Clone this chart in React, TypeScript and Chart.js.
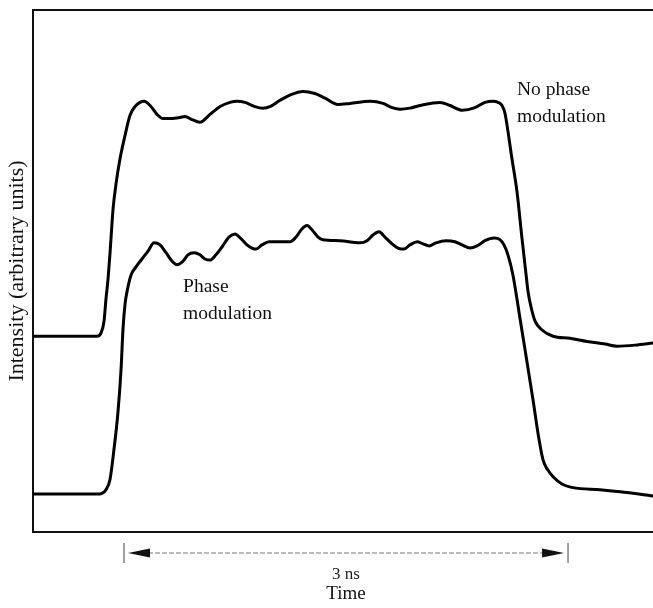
import React, { useEffect, useRef } from "react";
import { Chart, registerables } from "chart.js";

Chart.register(...registerables);

const WIDTH = 653;
const HEIGHT = 608;
const FONT = "'Liberation Serif', 'Times New Roman', serif";

// Time in ns, intensity in arbitrary units
const timeMin = 0;
const timeMax = 4.189;
const intensityMin = 0;
const intensityMax = 10;

// Pulse without phase modulation (upper trace)
const noPhaseTime = [
  0, 0.182, 0.385, 0.432, 0.459, 0.48, 0.493, 0.507, 0.52, 0.541,
  0.561, 0.588, 0.622, 0.655, 0.689, 0.723, 0.75, 0.791, 0.838, 0.878,
  0.939, 0.993, 1.027, 1.074, 1.128, 1.196, 1.264, 1.331, 1.378, 1.432,
  1.5, 1.554, 1.601, 1.669, 1.736, 1.824, 1.905, 1.973, 2.061, 2.142,
  2.277, 2.365, 2.426, 2.48, 2.547, 2.615, 2.75, 2.818, 2.899, 2.986,
  3.054, 3.108, 3.142, 3.169, 3.189, 3.203, 3.236, 3.27, 3.304, 3.331,
  3.345, 3.365, 3.392, 3.439, 3.514, 3.628, 3.743, 3.865, 3.946, 4.068,
  4.189,
];
const noPhaseIntensity = [
  3.75, 3.75, 3.75, 3.75, 3.81, 4.04, 4.46, 4.85, 5.33, 6.19,
  6.67, 7.15, 7.6, 7.98, 8.15, 8.23, 8.25, 8.17, 8.0, 7.92,
  7.92, 7.94, 7.96, 7.9, 7.85, 8.0, 8.15, 8.23, 8.25, 8.23,
  8.15, 8.12, 8.15, 8.27, 8.37, 8.44, 8.4, 8.31, 8.19, 8.21,
  8.25, 8.21, 8.13, 8.1, 8.12, 8.17, 8.23, 8.17, 8.08, 8.13,
  8.23, 8.25, 8.23, 8.17, 8.02, 7.79, 7.15, 6.52, 5.62, 4.94,
  4.6, 4.31, 4.04, 3.87, 3.75, 3.71, 3.65, 3.6, 3.56, 3.58,
  3.62,
];

// Pulse with phase modulation (lower trace)
const phaseTime = [
  0, 0.182, 0.385, 0.453, 0.473, 0.493, 0.52, 0.547, 0.574, 0.595,
  0.608, 0.622, 0.635, 0.662, 0.696, 0.736, 0.777, 0.818, 0.858, 0.899,
  0.939, 0.973, 1.014, 1.047, 1.088, 1.128, 1.162, 1.196, 1.236, 1.277,
  1.324, 1.365, 1.405, 1.446, 1.48, 1.507, 1.547, 1.595, 1.669, 1.736,
  1.777, 1.818, 1.851, 1.885, 1.926, 1.959, 2.074, 2.209, 2.257, 2.297,
  2.338, 2.378, 2.426, 2.466, 2.507, 2.547, 2.595, 2.635, 2.676, 2.723,
  2.791, 2.851, 2.899, 2.953, 3.0, 3.054, 3.115, 3.155, 3.182, 3.209,
  3.243, 3.291, 3.338, 3.378, 3.419, 3.446, 3.473, 3.514, 3.574, 3.649,
  3.831, 3.966, 4.189,
];
const phaseIntensity = [
  0.73, 0.73, 0.73, 0.73, 0.75, 0.81, 1.0, 1.58, 2.29, 3.12,
  3.88, 4.37, 4.6, 4.92, 5.08, 5.23, 5.38, 5.54, 5.5, 5.35,
  5.19, 5.12, 5.19, 5.31, 5.35, 5.31, 5.23, 5.21, 5.31, 5.46,
  5.65, 5.71, 5.62, 5.5, 5.44, 5.42, 5.5, 5.56, 5.56, 5.56,
  5.65, 5.81, 5.87, 5.79, 5.65, 5.6, 5.58, 5.54, 5.58, 5.69,
  5.75, 5.65, 5.52, 5.44, 5.42, 5.5, 5.56, 5.52, 5.48, 5.54,
  5.58, 5.56, 5.5, 5.44, 5.48, 5.58, 5.63, 5.6, 5.5, 5.31,
  4.92, 4.08, 3.25, 2.54, 1.77, 1.38, 1.21, 1.06, 0.92, 0.85,
  0.81, 0.77, 0.69,
];

// Trace labels: lines of text and the (time, intensity) of the first baseline
const noPhaseLabel = ["No phase", "modulation"];
const noPhaseLabelAt = [3.27, 8.37];
const phaseLabel = ["Phase", "modulation"];
const phaseLabelAt = [1.014, 4.6];

// 3 ns scale bar under the time axis
const scaleBarNs = [0.615, 3.615];
const scaleBarText = "3 ns";
const xTitle = "Time";
const yTitle = "Intensity (arbitrary units)";

const toPoints = (xs: number[], ys: number[]) => xs.map((x, i) => ({ x, y: ys[i] }));

const framePlugin = {
  id: "frame",
  beforeDatasetsDraw(chart: any) {
    const { ctx, chartArea: a } = chart;
    ctx.save();
    ctx.strokeStyle = "#111";
    ctx.lineWidth = 2;
    ctx.lineCap = "square";
    ctx.beginPath();
    ctx.moveTo(WIDTH, a.top);
    ctx.lineTo(a.left, a.top);
    ctx.lineTo(a.left, a.bottom);
    ctx.lineTo(WIDTH, a.bottom);
    ctx.stroke();
    ctx.restore();
  },
  afterDraw(chart: any) {
    const { ctx, chartArea: a } = chart;
    const x = chart.scales.x;
    const y = chart.scales.y;
    ctx.save();
    ctx.fillStyle = "#111";

    // trace labels
    ctx.font = `19.5px ${FONT}`;
    ctx.textAlign = "left";
    ctx.textBaseline = "alphabetic";
    const drawLabel = (lines: string[], at: number[]) => {
      const px = x.getPixelForValue(at[0]);
      const py = y.getPixelForValue(at[1]);
      lines.forEach((t, i) => ctx.fillText(t, px, py + i * 27));
    };
    drawLabel(noPhaseLabel, noPhaseLabelAt);
    drawLabel(phaseLabel, phaseLabelAt);

    // y-axis title
    ctx.save();
    ctx.translate(17, (a.top + a.bottom) / 2);
    ctx.rotate(-Math.PI / 2);
    ctx.textAlign = "center";
    ctx.textBaseline = "middle";
    ctx.font = `22px ${FONT}`;
    ctx.fillText(yTitle, 0, 0);
    ctx.restore();

    // scale bar with arrows
    const x0 = x.getPixelForValue(scaleBarNs[0]);
    const x1 = x.getPixelForValue(scaleBarNs[1]);
    const by = a.bottom + 21;
    ctx.strokeStyle = "#444";
    ctx.lineWidth = 1;
    ctx.beginPath();
    ctx.moveTo(x0, by - 10);
    ctx.lineTo(x0, by + 10);
    ctx.moveTo(x1, by - 10);
    ctx.lineTo(x1, by + 10);
    ctx.stroke();

    ctx.strokeStyle = "#777";
    ctx.setLineDash([5, 2]);
    ctx.beginPath();
    ctx.moveTo(x0 + 24, by);
    ctx.lineTo(x1 - 24, by);
    ctx.stroke();
    ctx.setLineDash([]);

    ctx.fillStyle = "#111";
    ctx.beginPath();
    ctx.moveTo(x0 + 4, by);
    ctx.lineTo(x0 + 26, by - 4.5);
    ctx.lineTo(x0 + 26, by + 4.5);
    ctx.closePath();
    ctx.fill();
    ctx.beginPath();
    ctx.moveTo(x1 - 4, by);
    ctx.lineTo(x1 - 26, by - 4.5);
    ctx.lineTo(x1 - 26, by + 4.5);
    ctx.closePath();
    ctx.fill();

    const mid = (x0 + x1) / 2;
    ctx.textAlign = "center";
    ctx.textBaseline = "alphabetic";
    ctx.fillStyle = "#222";
    ctx.font = `17px ${FONT}`;
    ctx.fillText(scaleBarText, mid, by + 26);
    ctx.fillStyle = "#111";
    ctx.font = `19px ${FONT}`;
    ctx.fillText(xTitle, mid, by + 46);
    ctx.restore();
  },
};

export default function App() {
  const canvasRef = useRef<HTMLCanvasElement | null>(null);

  useEffect(() => {
    const canvas = canvasRef.current;
    if (!canvas) return;
    const chart = new Chart(canvas, {
      type: "line",
      data: {
        datasets: [
          {
            label: "No phase modulation",
            data: toPoints(noPhaseTime, noPhaseIntensity),
          },
          {
            label: "Phase modulation",
            data: toPoints(phaseTime, phaseIntensity),
          },
        ].map((d) => ({
          ...d,
          borderColor: "#000",
          borderWidth: 3,
          pointRadius: 0,
          fill: false,
          cubicInterpolationMode: "monotone" as const,
          borderCapStyle: "round" as const,
          borderJoinStyle: "round" as const,
        })),
      },
      options: {
        animation: false,
        responsive: false,
        devicePixelRatio: 1,
        layout: { padding: { left: 33, top: 10, right: 0, bottom: 76 } },
        plugins: {
          legend: { display: false },
          tooltip: { enabled: false },
        },
        scales: {
          x: { type: "linear", min: timeMin, max: timeMax, display: false },
          y: { type: "linear", min: intensityMin, max: intensityMax, display: false },
        },
      },
      plugins: [framePlugin],
    });
    return () => chart.destroy();
  }, []);

  return (
    <div style={{ position: "absolute", left: 0, top: 0, width: WIDTH, height: HEIGHT, background: "#fff" }}>
      <canvas ref={canvasRef} width={WIDTH} height={HEIGHT} style={{ display: "block" }} />
    </div>
  );
}
